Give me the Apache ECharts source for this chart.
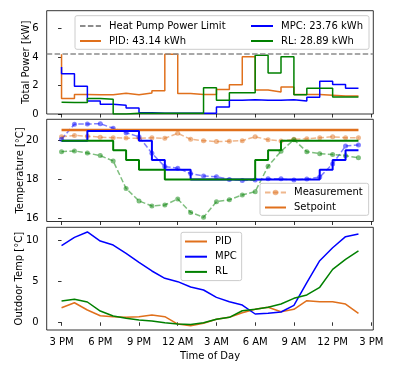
<!DOCTYPE html>
<html><head><meta charset="utf-8">
<script src="https://cdn.jsdelivr.net/npm/echarts@6/dist/echarts.min.js"></script>
<style>html,body{margin:0;padding:0;background:#fff}#c{width:396px;height:374px}</style>
</head><body><div id="c"></div>
<script>
// ---------- data ----------
const hours = [0,1,2,3,4,5,6,7,8,9,10,11,12,13,14,15,16,17,18,19,20,21,22,23];
const tickHours = [0,3,6,9,12,15,18,21,24];
const tickLabels = ['3 PM','6 PM','9 PM','12 AM','3 AM','6 AM','9 AM','12 PM','3 PM'];
const tempTicks = [16,18,20];
const outdoorTicks = [0,5,10];
const powerLimit = 4.2;

const pidPower = [4.2,1.08,1.37,1.35,1.35,1.45,1.35,1.48,1.63,4.2,1.44,1.37,1.37,1.72,2.05,4.02,1.68,1.55,1.9,1.37,1.37,1.32,1.27,1.27];
const mpcPower = [3.3,2.82,1.95,0.92,0.68,0.62,0.42,0.08,0.05,0.05,0.05,0.05,0.05,0.5,0.96,1.0,0.96,0.97,1.0,0.92,1.18,2.3,2.07,1.8];
const rlPower  = [0.82,0.8,0.8,1.08,1.03,0.0,0.06,0.06,0.06,0.05,0.05,0.05,1.84,0.96,1.5,1.5,4.12,2.87,4.02,1.35,1.8,1.8,1.2,1.2];

const pidMeas = [20.2,20.27,20.23,20.18,20.15,20.13,20.12,20.15,20.12,20.38,20.07,20.0,19.95,19.97,20.0,20.2,20.05,19.98,20.07,20.1,20.15,20.2,20.15,20.15];
const mpcMeas = [20.07,20.85,20.86,20.87,20.64,20.41,20.2,19.35,18.66,18.58,18.3,18.17,18.14,18.0,17.95,17.97,18.03,18.03,17.97,18.02,18.12,18.8,19.72,19.78];
const rlMeas  = [19.43,19.47,19.36,19.23,18.95,17.53,16.89,16.63,16.68,16.99,16.3,16.05,16.85,16.95,17.2,17.37,18.68,19.45,20.05,19.43,19.33,19.28,19.22,19.12];

const pidSet = [20.55,20.55,20.55,20.55,20.55,20.55,20.55,20.55,20.55,20.55,20.55,20.55,20.55,20.55,20.55,20.55,20.55,20.55,20.55,20.55,20.55,20.55,20.55,20.55];
const mpcSet = [20,20,20,20.5,20.5,20.5,20.5,20,19,18.5,18.5,18,18,18,18,18,18,18,18,18,18,18.5,19,19.5];
const rlSet  = [20,20,20,20,20,19.5,19,18.5,18.5,18,18,18,18,18,18,18,19,19.5,20,20,20,20,20,20];

const pidOut = [1.79,2.4,1.51,0.81,0.69,0.61,0.69,0.89,0.69,-0.21,-0.41,-0.12,0.37,0.61,1.18,1.59,1.84,1.3,1.59,2.65,2.53,2.53,2.24,1.1];
const mpcOut = [9.39,10.4,11.07,9.96,9.47,8.45,7.35,6.29,5.39,4.98,4.32,3.96,3.06,2.53,2.12,1.02,1.1,1.26,2.08,4.85,7.55,9.14,10.49,10.82];
const rlOut  = [2.61,2.82,2.49,1.38,0.77,0.49,0.28,0.16,-0.05,-0.21,-0.27,-0.05,0.37,0.61,1.42,1.59,1.84,2.24,2.94,3.35,4.29,6.49,7.72,8.74];

// ---------- style ----------
const ORANGE = '#e0701c', BLUE = '#0000ff', GREEN = '#008000';
const FONT = 'DejaVu Sans';
const pairs = arr => hours.map((h, i) => [h, arr[i]]);
const L = 46.7, W = 326.6;
const grids = [
  {left: L, top: 10.7, width: W, height: 103.3},
  {left: L, top: 119.3, width: W, height: 102.2},
  {left: L, top: 227.3, width: W, height: 102.7}
].map(g => Object.assign(g, {show: true, borderColor: '#000', borderWidth: 0.8, backgroundColor: 'transparent', containLabel: false, outerBoundsMode: 'none'}));

const tick = {show: true, inside: false, length: 3.5, lineStyle: {color: '#000', width: 0.8}};
const lbl = {color: '#000', fontSize: 10, fontFamily: FONT};
function xAxis(i) {
  const a = {type: 'value', gridIndex: i, min: -1.15, max: 24.15,
    axisLine: {show: false}, splitLine: {show: false},
    axisTick: Object.assign({customValues: tickHours}, tick),
    axisLabel: {show: i === 2, customValues: tickHours, margin: 7, ...lbl,
      formatter: v => tickLabels[tickHours.indexOf(v)]}};
  if (i === 2) { a.name = 'Time of Day'; a.nameLocation = 'middle'; a.nameGap = 21; a.nameTextStyle = lbl; a.nameMoveOverlap = false; }
  return a;
}
function yAxis(i, min, max, ticks, name, gap) {
  return {type: 'value', gridIndex: i, min, max, name, nameLocation: 'middle', nameGap: gap, nameTextStyle: lbl,
    nameMoveOverlap: false,
    axisLine: {show: false}, splitLine: {show: false},
    axisTick: Object.assign({customValues: ticks}, tick),
    axisLabel: {customValues: ticks, margin: 8, ...lbl}};
}

function step(name, arr, color, ax, w) {
  return {name, type: 'line', step: 'start', xAxisIndex: ax, yAxisIndex: ax, data: pairs(arr),
    symbol: 'none', lineStyle: {color, width: w}, itemStyle: {color}, z: 3};
}
function meas(name, arr, color) {
  return {name, type: 'line', xAxisIndex: 1, yAxisIndex: 1, data: pairs(arr),
    symbol: 'circle', symbolSize: 5, showSymbol: true, showAllSymbol: true,
    lineStyle: {color, width: 1.5, type: [5.5, 2.4], opacity: 0.5},
    itemStyle: {color, opacity: 0.5}, z: 2};
}
function plain(name, arr, color, ax, w) {
  return {name, type: 'line', xAxisIndex: ax, yAxisIndex: ax, data: pairs(arr),
    symbol: 'none', lineStyle: {color, width: w}, itemStyle: {color}, z: 3};
}

const series = [
  {name: 'Heat Pump Power Limit', type: 'line', xAxisIndex: 0, yAxisIndex: 0, data: [],
    symbol: 'none', lineStyle: {color: '#8c8c8c', width: 1.5, type: [5.5, 2.4]}, itemStyle: {color: '#8c8c8c'},
    markLine: {silent: true, symbol: 'none', label: {show: false},
      lineStyle: {color: '#8c8c8c', width: 1.5, type: [5.5, 2.4]}, data: [{yAxis: powerLimit}]}},
  step('PID: 43.14 kWh', pidPower, ORANGE, 0, 1.5),
  step('MPC: 23.76 kWh', mpcPower, BLUE, 0, 1.5),
  step('RL: 28.89 kWh', rlPower, GREEN, 0, 1.5),

  meas('Measurement', pidMeas, ORANGE),
  plain('Setpoint', pidSet, ORANGE, 1, 2.5),
  meas('MPC measurement', mpcMeas, BLUE),
  step('MPC setpoint', mpcSet, BLUE, 1, 2),
  meas('RL measurement', rlMeas, GREEN),
  step('RL setpoint', rlSet, GREEN, 1, 2),

  plain('PID', pidOut, ORANGE, 2, 1.5),
  plain('MPC', mpcOut, BLUE, 2, 1.5),
  plain('RL', rlOut, GREEN, 2, 1.5)
];

const legText = {color: '#000', fontSize: 10, fontFamily: FONT, lineHeight: 12, padding: [0, 0, 0, 3]};
const legBase = {orient: 'vertical', itemGap: 3, textStyle: legText, selectedMode: false,
  itemStyle: {opacity: 0}, padding: 0};

const chart = echarts.init(document.getElementById('c'), null, {renderer: 'canvas'});
chart.setOption({
  animation: false,
  backgroundColor: '#fff',
  grid: grids,
  xAxis: [0, 1, 2].map(xAxis),
  yAxis: [
    yAxis(0, 0, 7.25, [0, 2, 4, 6], 'Total Power [kW]', 15),
    yAxis(1, 15.83, 21.1, tempTicks, 'Temperature [°C]', 21),
    yAxis(2, -0.94, 11.64, outdoorTicks, 'Outdoor Temp [°C]', 22)
  ],
  graphic: [{type: 'rect', z: 3, shape: {x: 75, y: 15.7, width: 294, height: 33.6, r: 2},
    style: {fill: 'rgba(255,255,255,0.8)', stroke: '#cccccc', lineWidth: 1}}],
  legend: [
    Object.assign({}, legBase, {left: 79, top: 20, itemWidth: 21, itemHeight: 12,
      data: ['Heat Pump Power Limit', 'PID: 43.14 kWh']}),
    Object.assign({}, legBase, {left: 250, top: 20, itemWidth: 22, itemHeight: 12,
      data: ['MPC: 23.76 kWh', 'RL: 28.89 kWh']}),
    Object.assign({}, legBase, {left: 260, top: 183.3, itemWidth: 21, itemHeight: 7, itemGap: 3,
      padding: [3.2, 6, 1.8, 4], backgroundColor: 'rgba(255,255,255,0.8)', borderColor: '#cccccc', borderWidth: 1, borderRadius: 2,
      data: [{name: 'Measurement', itemStyle: {opacity: 0.5}}, 'Setpoint']}),
    Object.assign({}, legBase, {left: 181, top: 232.3, itemWidth: 22, itemHeight: 12, itemGap: 3.2,
      padding: [3.2, 5, 2.7, 3], backgroundColor: 'rgba(255,255,255,0.8)', borderColor: '#cccccc', borderWidth: 1, borderRadius: 2,
      data: ['PID', 'MPC', 'RL']})
  ],
  series
});
</script></body></html>
